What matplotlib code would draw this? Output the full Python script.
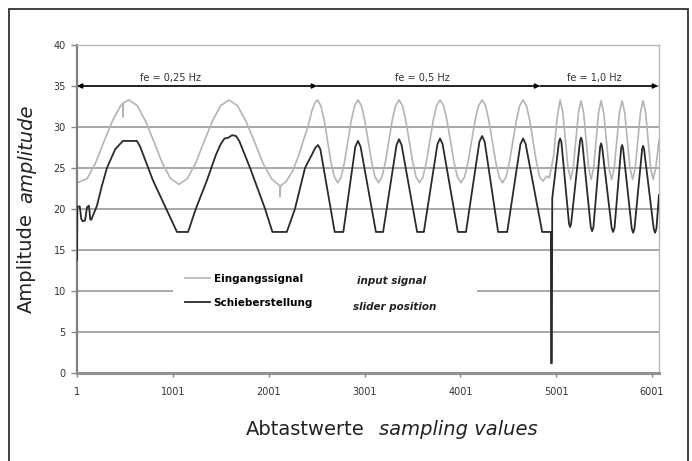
"""
Step response chart: input signal vs slider position at three test frequencies.
Static PNG via matplotlib.
"""

import matplotlib
matplotlib.use("Agg")
import matplotlib.pyplot as plt
from matplotlib.lines import Line2D
from matplotlib.patches import Rectangle


# Colours — greyscale, like the printed original
INPUT_COLOR = "#b4b4b4"
SLIDER_COLOR = "#2a2a2a"
GRID_COLOR = "#a0a0a0"
TEXT_COLOR = "#333333"

# Input signal (Eingangssignal)
input_x = [
    1, 107, 194, 281, 369, 456, 480, 480, 486, 543,
    630, 717, 804, 891, 978, 1065,
    1152, 1239, 1326, 1413, 1500, 1587,
    1676, 1764, 1853, 1941, 2030, 2119, 2119, 2125,
    2180, 2250, 2313, 2370, 2410, 2450, 2480, 2510,
    2545, 2581, 2616, 2651, 2687, 2722,
    2757, 2792, 2828, 2863, 2898, 2933,
    2969, 3004, 3040, 3076, 3111, 3147,
    3183, 3218, 3254, 3290, 3325, 3361,
    3397, 3432, 3468, 3504, 3539, 3575,
    3611, 3646, 3682, 3718, 3753, 3789,
    3826, 3862, 3898, 3935, 3971, 4008,
    4045, 4081, 4118, 4155, 4191, 4228,
    4264, 4299, 4335, 4371, 4406, 4442,
    4478, 4513, 4549, 4585, 4620, 4656,
    4691, 4725, 4760, 4795, 4829, 4864,
    4900, 4930, 4975, 5010, 5042,
    5070, 5097, 5125, 5152,
    5179, 5206, 5234, 5261,
    5287, 5314, 5340, 5366,
    5392, 5418, 5444, 5470,
    5497, 5525, 5552, 5580,
    5607, 5634, 5662, 5689,
    5716, 5744, 5771, 5799,
    5826, 5853, 5881, 5908,
    5934, 5960, 5987, 6013,
    6040, 6074,
]
input_y = [
    23.2, 23.7, 25.6, 28.2, 30.7, 32.6, 32.9, 31.2, 32.95, 33.3,
    32.6, 30.7, 28.2, 25.6, 23.7, 23.0,
    23.7, 25.6, 28.2, 30.7, 32.6, 33.3,
    32.6, 30.7, 28.2, 25.6, 23.7, 22.8, 21.5, 22.85,
    23.3, 24.6, 26.5, 28.6, 30.0, 31.9, 32.9, 33.3,
    32.6, 30.8, 28.25, 25.7, 23.9, 23.2,
    23.9, 25.7, 28.25, 30.8, 32.6, 33.3,
    32.6, 30.8, 28.25, 25.7, 23.9, 23.2,
    23.9, 25.7, 28.25, 30.8, 32.6, 33.3,
    32.6, 30.8, 28.25, 25.7, 23.9, 23.2,
    23.9, 25.7, 28.25, 30.8, 32.6, 33.3,
    32.6, 30.8, 28.25, 25.7, 23.9, 23.2,
    23.9, 25.7, 28.25, 30.8, 32.6, 33.3,
    32.6, 30.8, 28.25, 25.7, 23.9, 23.2,
    23.9, 25.7, 28.25, 30.8, 32.6, 33.3,
    32.6, 30.8, 28.25, 25.7, 23.9, 23.4,
    24.0, 23.8, 26.5, 31.0, 33.3,
    31.8, 28.4, 25.0, 23.6,
    25.0, 28.4, 31.8, 33.2,
    31.8, 28.4, 25.0, 23.6,
    25.0, 28.4, 31.8, 33.2,
    31.8, 28.4, 25.0, 23.6,
    25.0, 28.4, 31.8, 33.2,
    31.8, 28.4, 25.0, 23.6,
    25.0, 28.4, 31.8, 33.2,
    31.8, 28.4, 25.0, 23.6,
    25.0, 28.4,
]

# Slider position (Schieberstellung)
slider_x = [
    1, 4, 30, 45, 60, 85, 105, 125, 140, 150, 209, 260, 313, 400, 480,
    626, 660, 793, 1044, 1160, 1240, 1357, 1450, 1500, 1540, 1580, 1620,
    1660, 1694, 1807, 1964, 2040, 2190, 2275, 2380, 2490, 2515, 2540,
    2690, 2780, 2905, 2933, 2960, 3120, 3195, 3335, 3361, 3388, 3550,
    3620, 3762, 3789, 3816, 3975, 4060, 4200, 4228, 4255, 4395, 4490,
    4628, 4656, 4683, 4855, 4946, 4948, 4956, 4960,
    5030, 5042, 5055, 5135, 5146, 5157, 5250, 5261, 5272, 5362, 5376,
    5390, 5460, 5470, 5480, 5580, 5595, 5610, 5679, 5689, 5699, 5790,
    5804, 5818, 5898, 5908, 5918, 6019, 6033, 6047, 6074,
]
slider_y = [
    13.8, 20.3, 20.3, 18.8, 18.5, 18.6, 20.2, 20.4, 18.7, 18.7, 20.4, 22.8, 25.0, 27.3, 28.3,
    28.3, 27.6, 23.5, 17.2, 17.2, 20.0, 23.5, 26.6, 27.9, 28.6, 28.7, 29.0,
    28.9, 28.3, 25.0, 20.0, 17.2, 17.2, 20.0, 25.0, 27.5, 27.8, 27.3,
    17.2, 17.2, 27.6, 28.3, 27.6, 17.2, 17.2, 27.8, 28.5, 27.8, 17.2,
    17.2, 27.9, 28.6, 27.9, 17.2, 17.2, 28.2, 28.9, 28.2, 17.2, 17.2,
    27.9, 28.6, 27.9, 17.2, 17.2, 1.2, 1.2, 21.3,
    28.2, 28.6, 28.2, 18.2, 17.8, 18.2, 28.3, 28.7, 28.3, 17.8, 17.3,
    17.8, 27.6, 28.0, 27.6, 17.7, 17.2, 17.7, 27.4, 27.8, 27.4, 17.6,
    17.1, 17.6, 27.3, 27.7, 27.3, 17.6, 17.1, 17.6, 21.7,
]

# Frequency sections marked by arrows at y = 35
section_bounds = [1, 2505, 4833, 6064]
section_labels = ["fe = 0,25 Hz", "fe = 0,5 Hz", "fe = 1,0 Hz"]
section_label_x = [980, 3600, 5400]

x_ticks = [1, 1001, 2001, 3001, 4001, 5001, 6001]
y_ticks = [0, 5, 10, 15, 20, 25, 30, 35, 40]

legend_labels = ["Eingangssignal", "Schieberstellung"]
legend_labels_en = ["input signal", "slider position"]


fig = plt.figure(figsize=(6.92, 4.61), dpi=100)
ax = fig.add_axes([0.1113, 0.1909, 0.841, 0.7115])

# outer frame round the whole chart (bottom edge falls outside the picture)
fig.add_artist(Rectangle((9 / 692, -0.1), 679 / 692, 1.1 - 9 / 461,
                         transform=fig.transFigure, fill=False,
                         edgecolor="#333333", linewidth=1.3))

ax.plot(input_x, input_y, color=INPUT_COLOR, linewidth=1.2, zorder=2)
ax.plot(slider_x, slider_y, color=SLIDER_COLOR, linewidth=1.3, zorder=3)

# section arrows + labels
for i, label in enumerate(section_labels):
    style = "<|-|>" if i == 0 else "-|>"
    ax.annotate("", xy=(section_bounds[i + 1], 35), xytext=(section_bounds[i], 35),
                arrowprops=dict(arrowstyle=style, color="black", lw=1.1,
                                mutation_scale=7, shrinkA=0, shrinkB=0),
                zorder=4)
    ax.text(section_label_x[i], 35.35, label, ha="center", va="bottom",
            fontsize=7, color=TEXT_COLOR)

ax.set_xlim(1, 6074)
ax.set_ylim(0, 40)
ax.set_xticks(x_ticks)
ax.set_yticks(y_ticks)
ax.yaxis.grid(True, color=GRID_COLOR, linewidth=1.3)
ax.set_axisbelow(True)

ax.tick_params(axis="x", length=3, width=1, color="#888888", pad=7,
               labelsize=7, labelcolor=TEXT_COLOR)
ax.tick_params(axis="y", length=4, width=1, color="#888888", pad=4,
               labelsize=7, labelcolor=TEXT_COLOR)

ax.spines["left"].set_color("#808080")
ax.spines["left"].set_linewidth(1.6)
ax.spines["bottom"].set_color("#909090")
ax.spines["bottom"].set_linewidth(2.2)
for side in ("top", "right"):
    ax.spines[side].set_color("#b8b8b8")
    ax.spines[side].set_linewidth(1.0)

# white legend area hides the grid behind it
ax.add_patch(Rectangle((0.165, 0.137), 0.522, 0.223, transform=ax.transAxes,
                       facecolor="white", edgecolor="none", zorder=1.5))
handles = [Line2D([], [], color=INPUT_COLOR, linewidth=1.2),
           Line2D([], [], color=SLIDER_COLOR, linewidth=1.3)]
ax.legend(handles, legend_labels, loc="upper left",
          bbox_to_anchor=((185 - 77) / 582, (373 - 274) / 328),
          frameon=False, prop=dict(weight="bold", size=7.5),
          handlelength=2.4, handletextpad=0.35, labelspacing=1.3,
          borderpad=0, borderaxespad=0)
ax.text((357 - 77) / 582, (373 - 281) / 328, legend_labels_en[0],
        transform=ax.transAxes, style="italic", weight="bold", fontsize=7.5,
        va="center", color="#222222")
ax.text((353 - 77) / 582, (373 - 307) / 328, legend_labels_en[1],
        transform=ax.transAxes, style="italic", weight="bold", fontsize=7.5,
        va="center", color="#222222")

# axis titles, German regular + English italic
fig.text(305 / 692, 1 - 435 / 461, "Abtastwerte", ha="center", va="baseline",
         fontsize=14, color="#222222")
fig.text(458 / 692, 1 - 435 / 461, "sampling values", ha="center", va="baseline",
         fontsize=14, style="italic", color="#222222")
fig.text(26.8 / 692, 1 - 263.5 / 461, "Amplitude", rotation=90, ha="center",
         va="center", fontsize=14, color="#222222")
fig.text(26.8 / 692, 1 - 154 / 461, "amplitude", rotation=90, ha="center",
         va="center", fontsize=14, style="italic", color="#222222")

fig.savefig("out.png", dpi=100)
plt.close(fig)
